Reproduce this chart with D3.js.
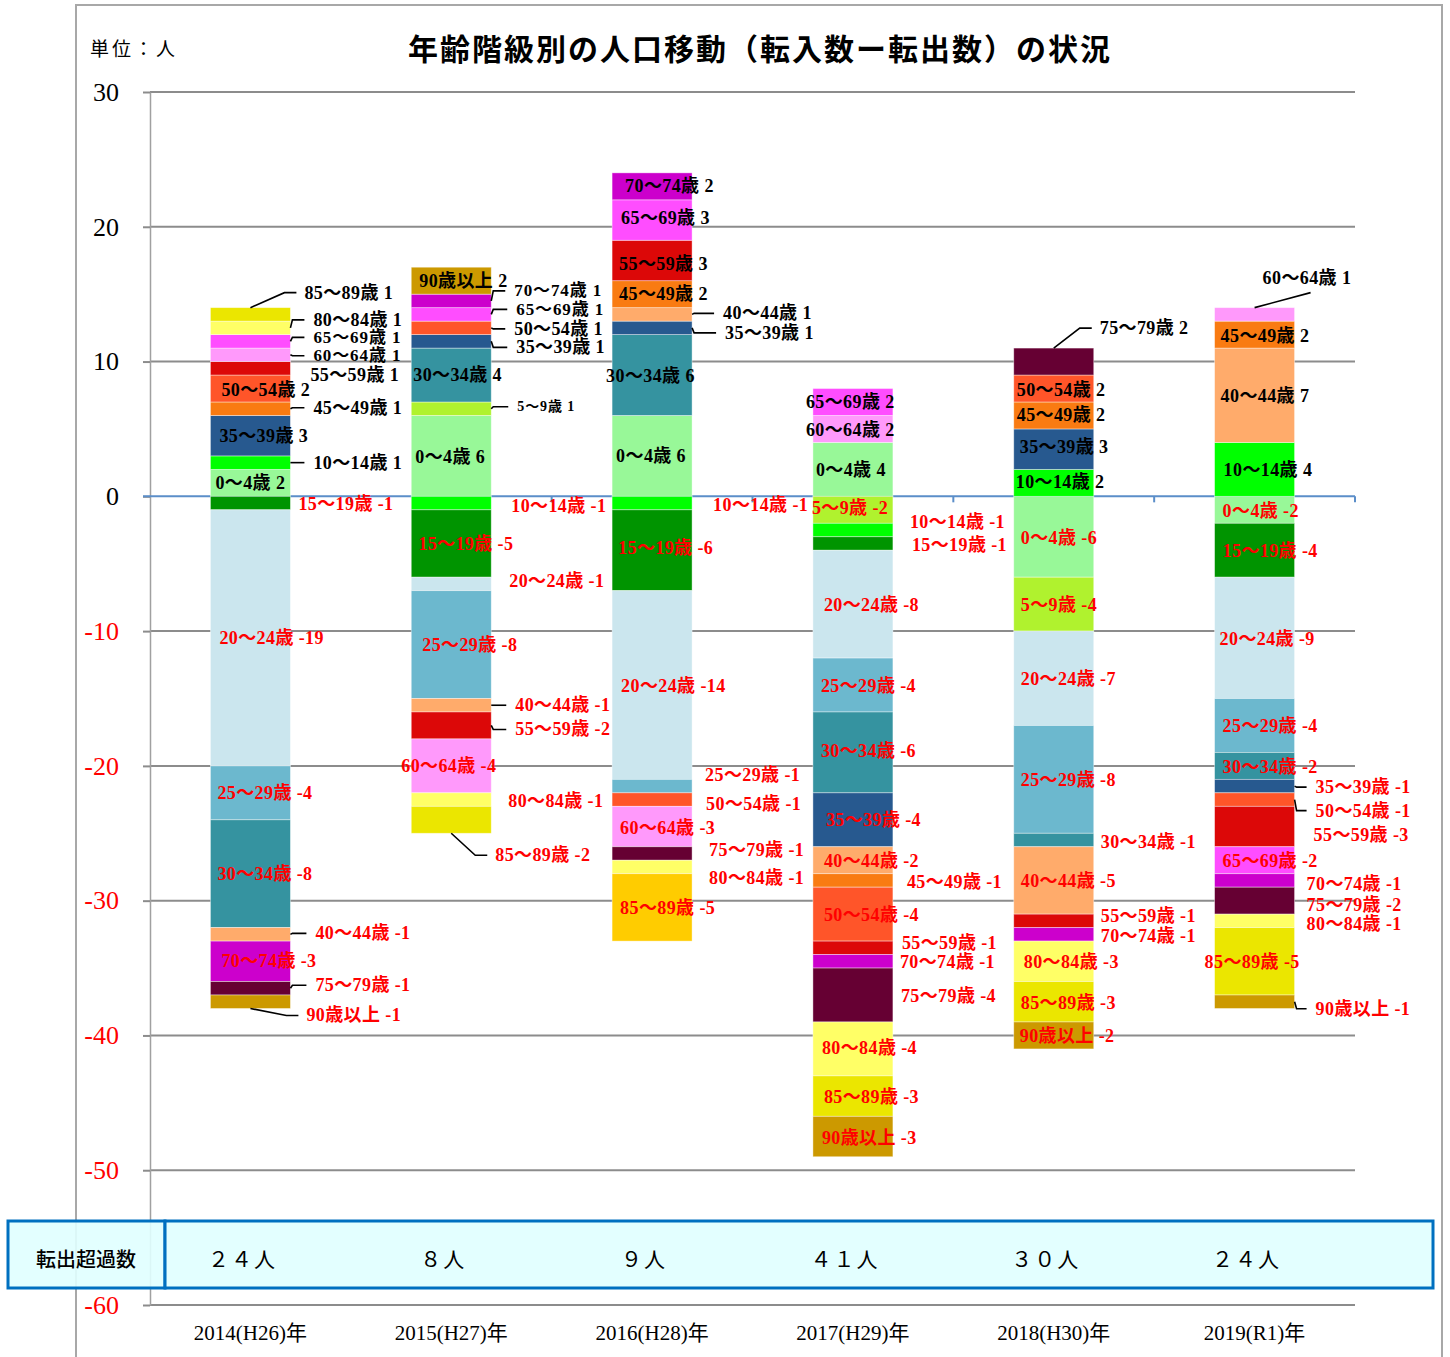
<!DOCTYPE html>
<html>
<head>
<meta charset="utf-8">
<script src="https://cdn.jsdelivr.net/npm/d3@7"></script>
<style>
  body { margin: 0; background: #fff; }
  svg text { font-family: "Liberation Serif", "Noto Sans CJK JP", serif; }
</style>
</head>
<body>
<svg id="chart" width="1450" height="1357"></svg>
<script>
// ---- data ----
var years = ["2014(H26)年", "2015(H27)年", "2016(H28)年", "2017(H29)年", "2018(H30)年", "2019(R1)年"];
var ages = ["0～4歳", "5～9歳", "10～14歳", "15～19歳", "20～24歳", "25～29歳", "30～34歳", "35～39歳",
            "40～44歳", "45～49歳", "50～54歳", "55～59歳", "60～64歳", "65～69歳", "70～74歳",
            "75～79歳", "80～84歳", "85～89歳", "90歳以上"];

//            0-4 5-9 10 15  20  25  30 35  40 45 50 55 60 65 70 75 80 85 90
var v2014 = [ 2,  0,  1, -1,-19, -4, -8, 3, -1, 1, 2, 1, 1, 1,-3,-1, 1, 1,-1];
var v2015 = [ 6,  1, -1, -5, -1, -8,  4, 1, -1, 0, 1,-2,-4, 1, 1, 0,-1,-2, 2];
var v2016 = [ 6,  0, -1, -6,-14, -1,  6, 1,  1, 2,-1, 3,-3, 3, 2,-1,-1,-5, 0];
var v2017 = [ 4, -2, -1, -1, -8, -4, -6,-4, -2,-1,-4,-1, 2, 2,-1,-4,-4,-3,-3];
var v2018 = [-6, -4,  2,  0, -7, -8, -1, 3, -5, 2, 2,-1, 0, 0,-1, 2,-3,-3,-2];
var v2019 = [-2,  0,  4, -4, -9, -4, -2,-1,  7, 2,-1,-3, 1,-2,-1,-2,-1,-5,-1];

var excessLabels = ["２４人", "８人", "９人", "４１人", "３０人", "２４人"];
var yTicks = [30, 20, 10, 0, -10, -20, -30, -40, -50, -60];

// ---- styling ----
var ageColors = ["#98f898", "#b0f22e", "#00ff00", "#009400", "#cbe6ee", "#6cb8ce", "#3593a0", "#27598f",
                 "#ffab6b", "#f97b12", "#ff5529", "#dc0808", "#ff99fb", "#ff4dff", "#cc00cc",
                 "#660033", "#ffff66", "#ebe600", "#cc9900"];
var colorOverride = {"2016(H28)年|85～89歳": "#ffcc00"};

// label placement: [mode, dx, dy, fontSize]
// i = inside (dx from bar left), o = outside with leader, f = outside no leader (dx from bar right)
// t / b = callout above / below the bar end, u = callout with slanted underline
var labelLayout = [
  { "0～4歳":["i",5,0], "10～14歳":["o",23,0], "35～39歳":["i",9,0], "45～49歳":["o",23,-1],
    "50～54歳":["i",11,1], "55～59歳":["f",20,7], "60～64歳":["o",23,1,17], "65～69歳":["o",23,-4,17],
    "80～84歳":["o",23,-8], "85～89歳":["t",14,-15], "15～19歳":["f",8,1], "20～24歳":["i",9,0],
    "25～29歳":["i",7,0], "30～34歳":["i",7,0], "40～44歳":["o",25,-1], "70～74歳":["i",11,0],
    "75～79歳":["o",25,-3], "90歳以上":["b",16,7] },
  { "0～4歳":["i",4,1], "5～9歳":["o",26,-2,14], "30～34歳":["i",2,0], "35～39歳":["o",25,6],
    "50～54歳":["o",23,1], "65～69歳":["o",25,-5,17], "70～74歳":["o",23,-10,17], "90歳以上":["i",8,0],
    "10～14歳":["f",20,3], "15～19歳":["i",7,0], "20～24歳":["f",18,-3], "25～29歳":["i",11,0],
    "40～44歳":["o",24,0], "55～59歳":["o",24,4], "60～64歳":["i",-10,0], "80～84歳":["f",17,1],
    "85～89歳":["b",4,22] },
  { "0～4歳":["i",4,0], "30～34歳":["i",-6,1], "35～39歳":["o",33,5], "40～44歳":["o",31,-1],
    "45～49歳":["i",7,0], "55～59歳":["i",7,4], "65～69歳":["i",9,-2], "70～74歳":["i",13,0],
    "10～14歳":["f",21,2], "15～19歳":["i",6,-2], "20～24歳":["i",9,1], "25～29歳":["f",13,-11],
    "50～54歳":["f",14,4], "60～64歳":["i",8,1], "75～79歳":["f",17,-3], "80～84歳":["f",17,11],
    "85～89歳":["i",8,1] },
  { "0～4歳":["i",3,1], "60～64歳":["i",-7,1], "65～69歳":["i",-7,0], "5～9歳":["i",-1,-2],
    "10～14歳":["f",17,-8], "15～19歳":["f",19,1], "20～24歳":["i",11,1], "25～29歳":["i",8,1],
    "30～34歳":["i",8,-1], "35～39歳":["i",13,0], "40～44歳":["i",11,1], "45～49歳":["f",14,2],
    "50～54歳":["i",11,1], "55～59歳":["f",9,-5], "70～74歳":["f",7,1], "75～79歳":["f",8,1],
    "80～84歳":["i",9,-1], "85～89歳":["i",11,1], "90歳以上":["i",9,1] },
  { "10～14歳":["i",2,-1], "35～39歳":["i",6,-2], "45～49歳":["i",3,0], "50～54歳":["i",3,1],
    "75～79歳":["t",6,-20], "0～4歳":["i",7,1], "5～9歳":["i",7,1], "20～24歳":["i",7,1],
    "25～29歳":["i",7,1], "30～34歳":["f",7,2], "40～44歳":["i",7,1], "55～59歳":["f",7,-5],
    "70～74歳":["f",7,2], "80～84歳":["i",10,1], "85～89歳":["i",7,1], "90歳以上":["i",6,1] },
  { "10～14歳":["i",9,1], "40～44歳":["i",6,1], "45～49歳":["i",6,1], "60～64歳":["u",-32,-30],
    "0～4歳":["i",8,1], "15～19歳":["i",8,1], "20～24歳":["i",5,1], "25～29歳":["i",8,1],
    "30～34歳":["i",8,1], "35～39歳":["o",21,1], "50～54歳":["o",21,11], "55～59歳":["f",19,8],
    "65～69歳":["i",8,1], "70～74歳":["f",12,4], "75～79歳":["f",12,4], "80～84歳":["f",12,3],
    "85～89歳":["i",-10,1], "90歳以上":["o",21,7] }
];

var values = [v2014, v2015, v2016, v2017, v2018, v2019];
var rows = years.map(function(yr, i) {
  var r = {year: yr};
  ages.forEach(function(a, j) { r[a] = values[i][j]; });
  return r;
});

var svg = d3.select("#chart");
var plotLeft = 150, plotRight = 1355;

var x = d3.scaleBand().domain(years).range([plotLeft, plotRight]);
var y = d3.scaleLinear().domain([-60, 30]).range([1305, 92]);
var barW = 80;
function cx(yr) { return x(yr) + x.bandwidth() / 2; }

// outer frame
svg.append("path")
  .attr("d", "M76,1357 L76,5 L1442,5 L1442,1357")
  .attr("fill", "none").attr("stroke", "#a8a8a8").attr("stroke-width", 2);

// gridlines
svg.append("g").selectAll("line")
  .data(yTicks.filter(function(t) { return t !== 0; }))
  .enter().append("line")
    .attr("x1", plotLeft).attr("x2", plotRight)
    .attr("y1", function(d) { return y(d); }).attr("y2", function(d) { return y(d); })
    .attr("stroke", "#8c8c8c").attr("stroke-width", 2);

// y axis
var yAxis = svg.append("g")
  .attr("transform", "translate(" + plotLeft + ",0)")
  .call(d3.axisLeft(y).tickValues(yTicks).tickSize(7).tickSizeOuter(0).tickPadding(24)
        .tickFormat(function(d) { return d; }));
yAxis.attr("font-family", null);
yAxis.select(".domain").attr("stroke", "#a0a0a0").attr("stroke-width", 1.5);
yAxis.selectAll(".tick line").attr("stroke", "#8c8c8c").attr("stroke-width", 2);
yAxis.selectAll(".tick text")
  .style("font-family", "'Liberation Serif', 'DejaVu Serif', serif")
  .style("font-size", "26px")
  .attr("fill", function(d) { return d < 0 ? "#ff0000" : "#000"; });

// zero line with category tick marks
svg.append("line")
  .attr("x1", plotLeft - 7).attr("x2", plotRight)
  .attr("y1", y(0)).attr("y2", y(0))
  .attr("stroke", "#5b8ec9").attr("stroke-width", 2);
svg.append("g").selectAll("line")
  .data(years)
  .enter().append("line")
    .attr("x1", function(d) { return x(d) + x.bandwidth(); })
    .attr("x2", function(d) { return x(d) + x.bandwidth(); })
    .attr("y1", y(0)).attr("y2", y(0) + 6)
    .attr("stroke", "#5b8ec9").attr("stroke-width", 2);

// stacked bars
var series = d3.stack().keys(ages).offset(d3.stackOffsetDiverging)(rows);

var segs = [];
series.forEach(function(s, j) {
  s.forEach(function(d, i) {
    var v = values[i][j];
    if (v === 0) return;
    segs.push({age: s.key, ageIdx: j, yearIdx: i, year: years[i], value: v, y0: d[0], y1: d[1]});
  });
});

svg.append("g").selectAll("rect")
  .data(segs)
  .enter().append("rect")
    .attr("x", function(d) { return cx(d.year) - barW / 2; })
    .attr("width", barW)
    .attr("y", function(d) { return y(d.y1); })
    .attr("height", function(d) { return y(d.y0) - y(d.y1); })
    .attr("fill", function(d) { return colorOverride[d.year + "|" + d.age] || ageColors[d.ageIdx]; })
    .attr("stroke", "#ffffff").attr("stroke-opacity", 0.5).attr("stroke-width", 0.8);

// data labels
var leaders = svg.append("g").attr("fill", "none").attr("stroke", "#000").attr("stroke-width", 1.6);
var labels = svg.append("g");

segs.forEach(function(d) {
  var L = labelLayout[d.yearIdx][d.age] || ["i", 8, 0];
  var mode = L[0], dx = L[1], dy = L[2], fs = L[3] || 18;
  var c = cx(d.year), left = c - barW / 2, right = c + barW / 2;
  var segY = y((d.y0 + d.y1) / 2);
  var tx, ty;
  if (mode === "i") { tx = left + dx; ty = segY + dy; }
  else if (mode === "o" || mode === "f") { tx = right + dx; ty = segY + dy; }
  else if (mode === "t" || mode === "u") { tx = right + dx; ty = y(d.y1) + dy; }
  else { tx = right + dx; ty = y(d.y0) + dy; }

  if (mode === "o") {
    leaders.append("path").attr("d", "M" + right + "," + segY + " L" + (right + 2) + "," + ty + " L" + (tx - 9) + "," + ty);
  } else if (mode === "t") {
    leaders.append("path").attr("d", "M" + c + "," + y(d.y1) + " L" + (tx - 20) + "," + ty + " L" + (tx - 8) + "," + ty);
  } else if (mode === "b") {
    leaders.append("path").attr("d", "M" + c + "," + y(d.y0) + " L" + (tx - 20) + "," + ty + " L" + (tx - 8) + "," + ty);
  } else if (mode === "u") {
    leaders.append("path").attr("d", "M" + c + "," + y(d.y1) + " L" + (tx + 48) + "," + (ty + 15));
  }

  labels.append("text")
    .attr("x", tx).attr("y", ty)
    .attr("dominant-baseline", "central")
    .style("font-size", fs + "px")
    .style("font-weight", "bold")
    .style("letter-spacing", fs < 18 ? "0.9px" : "0.4px")
    .attr("fill", d.value < 0 ? "#ff0000" : "#000")
    .text(d.age + " " + d.value);
});

// x axis labels
var xAxis = svg.append("g")
  .attr("transform", "translate(0," + y(-60) + ")")
  .call(d3.axisBottom(x).tickSize(0).tickPadding(20));
xAxis.attr("font-family", null);
xAxis.select(".domain").remove();
xAxis.selectAll(".tick text")
  .style("font-family", "'Liberation Serif', 'Noto Sans CJK JP', serif")
  .style("font-size", "21px")
  .attr("fill", "#000");

// excess-outflow table
var table = svg.append("g");
table.append("rect")
  .attr("x", 8).attr("y", 1221).attr("width", 157).attr("height", 67)
  .attr("fill", "#e0ffff").attr("fill-opacity", 0.9)
  .attr("stroke", "#0070c0").attr("stroke-width", 3);
table.append("rect")
  .attr("x", 165).attr("y", 1221).attr("width", 1268).attr("height", 67)
  .attr("fill", "#e0ffff").attr("fill-opacity", 0.9)
  .attr("stroke", "#0070c0").attr("stroke-width", 3);
table.append("text")
  .attr("x", 86).attr("y", 1258)
  .attr("text-anchor", "middle").attr("dominant-baseline", "central")
  .style("font-family", "'Noto Sans CJK JP', sans-serif").style("font-size", "20px")
  .style("font-weight", 500)
  .text("転出超過数");
table.selectAll(".excess")
  .data(excessLabels)
  .enter().append("text")
    .attr("class", "excess")
    .attr("x", function(d, i) { return cx(years[i]) - 8; })
    .attr("y", 1258)
    .attr("text-anchor", "middle").attr("dominant-baseline", "central")
    .style("font-family", "'Noto Sans CJK JP', sans-serif").style("font-size", "21px")
    .style("letter-spacing", "2px")
    .text(function(d) { return d; });

// title and unit
svg.append("text")
  .attr("x", 760).attr("y", 47)
  .attr("text-anchor", "middle").attr("dominant-baseline", "central")
  .style("font-family", "'Noto Sans CJK JP', sans-serif").style("font-size", "30px")
  .style("font-weight", "bold").style("letter-spacing", "2px")
  .text("年齢階級別の人口移動（転入数ー転出数）の状況");
svg.append("text")
  .attr("x", 90).attr("y", 47)
  .attr("dominant-baseline", "central")
  .style("font-family", "'Noto Sans CJK JP', sans-serif").style("font-size", "19px")
  .style("letter-spacing", "3px")
  .text("単位：人");
</script>
</body>
</html>
